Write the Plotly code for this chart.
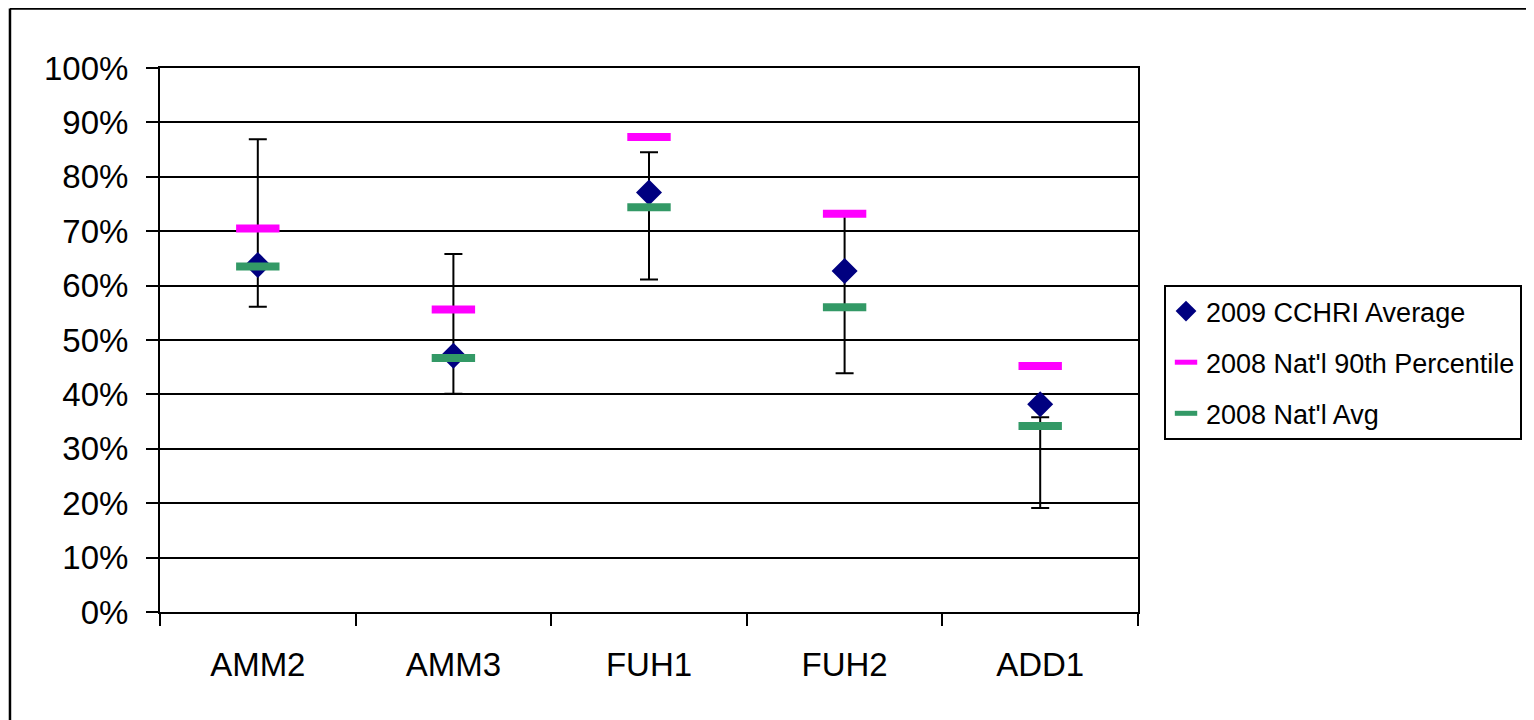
import plotly.graph_objects as go

categories = ["AMM2", "AMM3", "FUH1", "FUH2", "ADD1"]
cchri_avg_2009 = [0.638, 0.471, 0.771, 0.627, 0.382]
natl_p90_2008 = [0.705, 0.556, 0.873, 0.732, 0.452]
natl_avg_2008 = [0.635, 0.467, 0.744, 0.560, 0.342]
range_low = [0.561, 0.401, 0.611, 0.439, 0.191]
range_high = [0.869, 0.658, 0.845, 0.728, 0.358]

mid = [(lo + hi) / 2 for lo, hi in zip(range_low, range_high)]
err_plus = [hi - m for hi, m in zip(range_high, mid)]
err_minus = [m - lo for lo, m in zip(range_low, mid)]

FONT = "Liberation Sans, Arial, sans-serif"

fig = go.Figure()

fig.add_trace(go.Scatter(
    x=categories, y=mid, mode="markers",
    marker=dict(color="rgba(0,0,0,0)", size=1),
    error_y=dict(type="data", symmetric=False, array=err_plus, arrayminus=err_minus,
                 color="black", thickness=2, width=9),
    showlegend=False, hoverinfo="skip",
))

fig.add_trace(go.Scatter(
    x=categories, y=cchri_avg_2009, mode="markers", name="2009 CCHRI Average",
    legendgroup="a",
    marker=dict(symbol="diamond", size=20, color="#000080"),
))
fig.add_trace(go.Scatter(
    x=categories, y=natl_p90_2008, mode="markers", name="2008 Nat'l 90th Percentile",
    legendgroup="b",
    marker=dict(symbol="line-ew", size=31, color="#FF00FF",
                line=dict(color="#FF00FF", width=8)),
))
fig.add_trace(go.Scatter(
    x=categories, y=natl_avg_2008, mode="markers", name="2008 Nat'l Avg",
    legendgroup="c",
    marker=dict(symbol="line-ew", size=31, color="#339966",
                line=dict(color="#339966", width=8)),
))

fig.update_layout(
    width=1526, height=712,
    margin=dict(l=152, r=396, t=60, b=108),
    paper_bgcolor="white", plot_bgcolor="white",
    font=dict(family=FONT, color="black", size=33),
    showlegend=True,
    legend=dict(
        x=1.0266, y=0.601, xanchor="left", yanchor="top",
        font=dict(family=FONT, size=27, color="black"),
        bordercolor="black", borderwidth=2, bgcolor="white",
        traceorder="grouped", tracegroupgap=13,
        itemwidth=30,
    ),
    xaxis=dict(
        type="category", showgrid=False, showline=True, linecolor="black", linewidth=2,
        mirror=True, ticks="outside", tickson="boundaries", ticklen=12, tickwidth=1.5,
        tickcolor="black", tickfont=dict(size=33), ticklabelstandoff=22,
        range=[-0.5, 4.5],
    ),
    yaxis=dict(
        range=[0, 1], dtick=0.1, tickformat=".0%", showgrid=True, gridcolor="black",
        gridwidth=1.5, showline=True, linecolor="black", linewidth=2, mirror=True,
        ticks="outside", ticklen=12, tickwidth=1.5, tickcolor="black",
        tickfont=dict(size=33), ticklabelstandoff=11, zeroline=False,
    ),
    shapes=[
        dict(type="line", xref="paper", yref="paper", x0=-0.1534, x1=1.42,
             y0=1.1095, y1=1.1095, line=dict(color="black", width=2.5)),
        dict(type="line", xref="paper", yref="paper", x0=-0.1534, x1=-0.1534,
             y0=1.1095, y1=-0.25, line=dict(color="black", width=2.5)),
    ],
)

fig.write_html("out.html")
